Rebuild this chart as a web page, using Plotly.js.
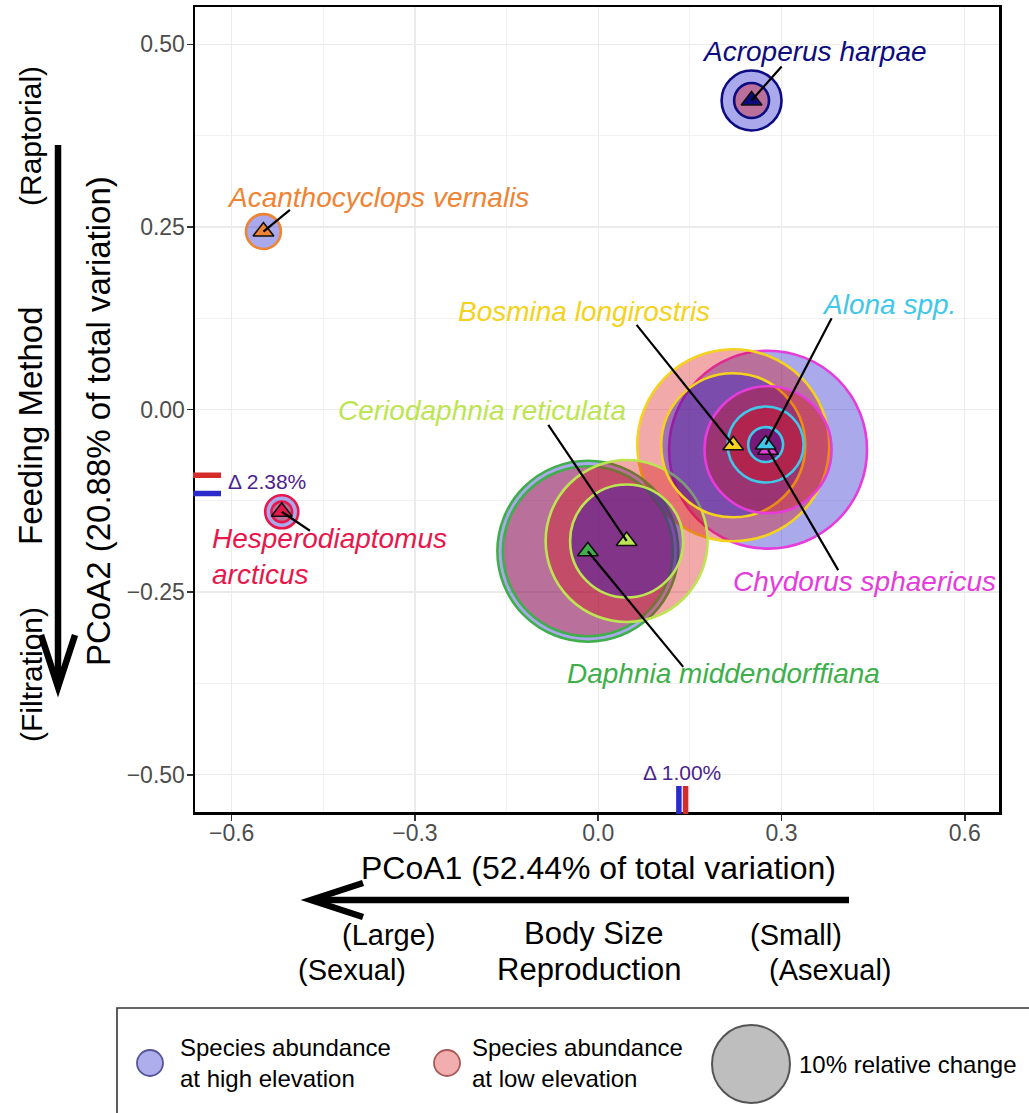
<!DOCTYPE html>
<html>
<head>
<meta charset="utf-8">
<script src="https://cdn.plot.ly/plotly-3.0.1.min.js"></script>
<style>
  html, body { margin: 0; padding: 0; background: #fff; }
  #chart { width: 1029px; height: 1113px; }
</style>
</head>
<body>
<div id="chart"></div>
<script>
// ---- Data ---------------------------------------------------------------
// Species scores on the first two PCoA axes
const species = [
  "Acanthocyclops vernalis", "Acroperus harpae", "Alona spp.",
  "Bosmina longirostris", "Ceriodaphnia reticulata", "Chydorus sphaericus",
  "Daphnia middendorffiana", "Hesperodiaptomus arcticus"
];
const pcoa1 = [-0.548, 0.251, 0.274, 0.221, 0.0465, 0.278, -0.017, -0.518];
const pcoa2 = [0.2436, 0.423, -0.048, -0.049, -0.180, -0.055, -0.194, -0.140];

// Relative abundance (%) at high and low elevation
const abundanceHigh = [2.0, 5.9, 2.0, 34.1, 21.0, 64.4, 53.8, 1.8];
const abundanceLow  = [0.1, 2.0, 9.5, 60.6, 43.1, 26.5, 47.5, 0.7];

// Community-weighted centroid at each elevation, and its shift along each axis
const centroidHigh = { pcoa1: 0.132, pcoa2: -0.115 };
const centroidLow  = { pcoa1: 0.143, pcoa2: -0.090 };
const shiftText    = { pcoa1: "\u0394 1.00%", pcoa2: "\u0394 2.38%" };

// Axis ticks
const xTicks = [-0.6, -0.3, 0.0, 0.3, 0.6];
const yTicks = [-0.50, -0.25, 0.00, 0.25, 0.50];
const legendReference = 10;   // % abundance shown by the legend bubble

// ---- Styling --------------------------------------------------------------
const FONT = "Liberation Sans, Arial, Helvetica, sans-serif";
const speciesColor = ["#EE8434", "#0C0C80", "#40C8E8", "#F4D21E",
                      "#BDE552", "#E53CDB", "#3EAF4A", "#E8174B"];
const highFill = "rgba(10,10,200,0.35)";
const lowFill  = "rgba(215,10,10,0.35)";
const highLine = "#2B2BCC";
const lowLine  = "#D42B2B";
const shiftColor = "#4B1F8F";

// Bubble area scale: the legend reference value maps to a 78 px circle
const refDiameter = 78;
const sizeref = (legendReference / 2) / Math.pow(refDiameter / 2, 2);

// Label placement (data units): text centre and start of leader line
const labelPlace = {
  "Acanthocyclops vernalis":   { tx: -0.3606, ty: 0.2897, lx: -0.5046, ly: 0.2733 },
  "Acroperus harpae":          { tx: 0.3547,  ty: 0.4897, lx: 0.3002,  ly: 0.4696 },
  "Alona spp.":                { tx: 0.4758,  ty: 0.1432, lx: 0.3820,  ly: 0.1249 },
  "Bosmina longirostris":      { tx: -0.0234, ty: 0.1336, lx: 0.0628,  ly: 0.1158 },
  "Ceriodaphnia reticulata":   { tx: -0.1903, ty: -0.0007, lx: -0.0818, ly: -0.0212 },
  "Chydorus sphaericus":       { tx: 0.4365,  ty: -0.2349, lx: 0.3928,  ly: -0.2199 },
  "Daphnia middendorffiana":   { tx: 0.2057,  ty: -0.3610, lx: 0.1391,  ly: -0.3523 },
  "Hesperodiaptomus arcticus": { tx: -0.6355, ty: -0.2014, lx: -0.4719, ly: -0.1660, left: true }
};

// ---- Plot area geometry (px) -----------------------------------------------
const W = 1029, H = 1113;
const PL = 195, PR = 999, PT = 7, PB = 812;
const px = v => (v - PL) / (PR - PL);   // page x -> paper x
const py = v => (PB - v) / (PB - PT);   // page y -> paper y

// ---- Traces -------------------------------------------------------------------
// All bubbles in one layer, larger ones drawn first so smaller ones stay visible
const bubbles = [];
species.forEach((s, i) => {
  bubbles.push({ i: i, v: abundanceHigh[i], fill: highFill });
  bubbles.push({ i: i, v: abundanceLow[i],  fill: lowFill });
});
bubbles.sort((a, b) => b.v - a.v);

const bubbleTrace = {
  type: "scatter", mode: "markers", hoverinfo: "skip", cliponaxis: false,
  x: bubbles.map(b => pcoa1[b.i]),
  y: bubbles.map(b => pcoa2[b.i]),
  marker: {
    symbol: "circle",
    size: bubbles.map(b => b.v),
    sizemode: "area", sizeref: sizeref,
    opacity: 1,
    color: bubbles.map(b => b.fill),
    line: { color: bubbles.map(b => speciesColor[b.i]), width: 2.6 }
  }
};

const triOrder = species.map((s, i) => i)
  .sort((a, b) => Math.max(abundanceHigh[b], abundanceLow[b]) - Math.max(abundanceHigh[a], abundanceLow[a]));
const triangleTrace = {
  type: "scatter", mode: "markers", hoverinfo: "skip", cliponaxis: false,
  x: triOrder.map(i => pcoa1[i]),
  y: triOrder.map(i => pcoa2[i]),
  marker: {
    symbol: "triangle-up", size: 18, opacity: 1,
    color: triOrder.map(i => speciesColor[i]),
    line: { color: "#111", width: 1.6 }
  }
};

const leaderX = [], leaderY = [];
species.forEach((s, i) => {
  const p = labelPlace[s];
  leaderX.push(p.lx, pcoa1[i], null);
  leaderY.push(p.ly, pcoa2[i], null);
});
const leaderTrace = {
  type: "scatter", mode: "lines", hoverinfo: "skip",
  x: leaderX, y: leaderY,
  line: { color: "#000", width: 2.2 }
};

// ---- Annotations ----------------------------------------------------------------
const annotations = [];

species.forEach((s, i) => {
  const p = labelPlace[s];
  const txt = p.left ? s.replace(" ", "<br>") : s;
  annotations.push({
    xref: "x", yref: "y", x: p.tx, y: p.ty, showarrow: false,
    text: "<i>" + txt + "</i>",
    xanchor: p.left ? "left" : "center", yanchor: "middle",
    align: p.left ? "left" : "center",
    font: { family: FONT, size: 28, color: speciesColor[i] }
  });
});

// Centroid shift labels
annotations.push({
  xref: "paper", yref: "y", x: px(226), y: (centroidHigh.pcoa2 + centroidLow.pcoa2) / 2 + 0.004,
  xanchor: "left", yanchor: "middle", showarrow: false, text: shiftText.pcoa2,
  font: { family: FONT, size: 21, color: shiftColor }
});
annotations.push({
  xref: "x", yref: "paper", x: (centroidHigh.pcoa1 + centroidLow.pcoa1) / 2, y: py(772),
  xanchor: "center", yanchor: "middle", showarrow: false, text: shiftText.pcoa1,
  font: { family: FONT, size: 21, color: shiftColor }
});

// Axis titles and trait directions
function pageText(text, x, y, size, opts) {
  annotations.push(Object.assign({
    xref: "paper", yref: "paper", x: px(x), y: py(y), text: text, showarrow: false,
    xanchor: "center", yanchor: "middle",
    font: { family: FONT, size: size, color: "#000" }
  }, opts || {}));
}
pageText("PCoA1 (52.44% of total variation)", 598, 868, 32);
pageText("(Large)", 389, 935, 29);
pageText("Body Size", 594, 933, 31);
pageText("(Small)", 796, 935, 29);
pageText("(Sexual)", 352, 970, 29);
pageText("Reproduction", 589, 970, 31);
pageText("(Asexual)", 830, 970, 29);

pageText("PCoA2 (20.88% of total variation)", 99, 421, 33, { textangle: -90 });
pageText("Feeding Method", 30, 426, 33, { textangle: -90 });
pageText("(Raptorial)", 31, 136, 30, { textangle: -90 });
pageText("(Filtration)", 31, 675, 30, { textangle: -90 });

// Legend text
pageText("Species abundance<br>at high elevation", 178, 1063, 24, { xanchor: "left", align: "left" });
pageText("Species abundance<br>at low elevation", 470, 1063, 24, { xanchor: "left", align: "left" });
pageText(legendReference + "% relative change", 797, 1064, 24, { xanchor: "left", align: "left" });

// ---- Shapes ----------------------------------------------------------------------
const shapes = [];

// Centroid rug marks on each axis
shapes.push({ type: "line", xref: "paper", yref: "y", x0: px(193), x1: px(221),
  y0: centroidLow.pcoa2, y1: centroidLow.pcoa2, line: { color: lowLine, width: 5.5 } });
shapes.push({ type: "line", xref: "paper", yref: "y", x0: px(193), x1: px(221),
  y0: centroidHigh.pcoa2, y1: centroidHigh.pcoa2, line: { color: highLine, width: 5.5 } });
shapes.push({ type: "line", xref: "x", yref: "paper", x0: centroidHigh.pcoa1, x1: centroidHigh.pcoa1,
  y0: py(814), y1: py(786), line: { color: highLine, width: 5.5 } });
shapes.push({ type: "line", xref: "x", yref: "paper", x0: centroidLow.pcoa1, x1: centroidLow.pcoa1,
  y0: py(814), y1: py(786), line: { color: lowLine, width: 5.5 } });

// Trait direction arrows
const arrowLine = { color: "#000", width: 6.5 };
shapes.push({ type: "line", xref: "paper", yref: "paper",
  x0: px(849), y0: py(900), x1: px(314), y1: py(900), line: arrowLine });
shapes.push({ type: "path", xref: "paper", yref: "paper",
  path: `M ${px(363)} ${py(883)} L ${px(311)} ${py(900)} L ${px(363)} ${py(917)}`, line: arrowLine });
shapes.push({ type: "line", xref: "paper", yref: "paper",
  x0: px(58), y0: py(145), x1: px(58), y1: py(684), line: arrowLine });
shapes.push({ type: "path", xref: "paper", yref: "paper",
  path: `M ${px(41)} ${py(635)} L ${px(58)} ${py(687)} L ${px(75)} ${py(635)}`, line: arrowLine });

// Legend box and keys
shapes.push({ type: "rect", xref: "paper", yref: "paper",
  x0: px(117), y0: py(1008), x1: px(1045), y1: py(1130),
  line: { color: "#333", width: 1.6 }, fillcolor: "rgba(0,0,0,0)" });
function legendCircle(cx, cy, d, fill, stroke, w) {
  shapes.push({ type: "circle", xref: "paper", yref: "paper",
    x0: px(cx - d / 2), x1: px(cx + d / 2), y0: py(cy + d / 2), y1: py(cy - d / 2),
    fillcolor: fill, line: { color: stroke, width: w } });
}
legendCircle(150, 1063, 26, "rgba(10,10,200,0.33)", "#55559A", 1.8);
legendCircle(447, 1063, 26, "rgba(215,10,10,0.33)", "#A85A5A", 1.8);
legendCircle(751, 1064, refDiameter, "#BEBEBE", "#555", 2);

// ---- Layout -----------------------------------------------------------------------
const axisCommon = {
  showgrid: true, gridcolor: "#EBEBEB", gridwidth: 1.3,
  zeroline: false, showline: true, mirror: true,
  linecolor: "#000", linewidth: 2.5,
  ticks: "outside", ticklen: 6, tickwidth: 1.5, tickcolor: "#333",
  tickfont: { family: FONT, size: 23, color: "#4D4D4D" }
};

const layout = {
  width: W, height: H,
  margin: { l: PL, r: W - PR, t: PT, b: H - PB, pad: 0 },
  paper_bgcolor: "#fff", plot_bgcolor: "#fff",
  showlegend: false,
  font: { family: FONT, color: "#000" },
  xaxis: Object.assign({}, axisCommon, {
    range: [-0.660, 0.656], tickmode: "array", tickvals: xTicks, tickformat: ".1f",
    ticklabelstandoff: -7,
    minor: { tickvals: [-0.45, -0.15, 0.15, 0.45], showgrid: true, gridcolor: "#EFEFEF", gridwidth: 0.9, ticks: "" }
  }),
  yaxis: Object.assign({}, axisCommon, {
    range: [-0.551, 0.551], tickmode: "array", tickvals: yTicks, tickformat: ".2f",
    ticklabelstandoff: -3,
    minor: { tickvals: [-0.375, -0.125, 0.125, 0.375], showgrid: true, gridcolor: "#EFEFEF", gridwidth: 0.9, ticks: "" }
  }),
  annotations: annotations,
  shapes: shapes
};

Plotly.newPlot("chart", [bubbleTrace, triangleTrace, leaderTrace], layout,
  { staticPlot: true, displayModeBar: false });
</script>
</body>
</html>
